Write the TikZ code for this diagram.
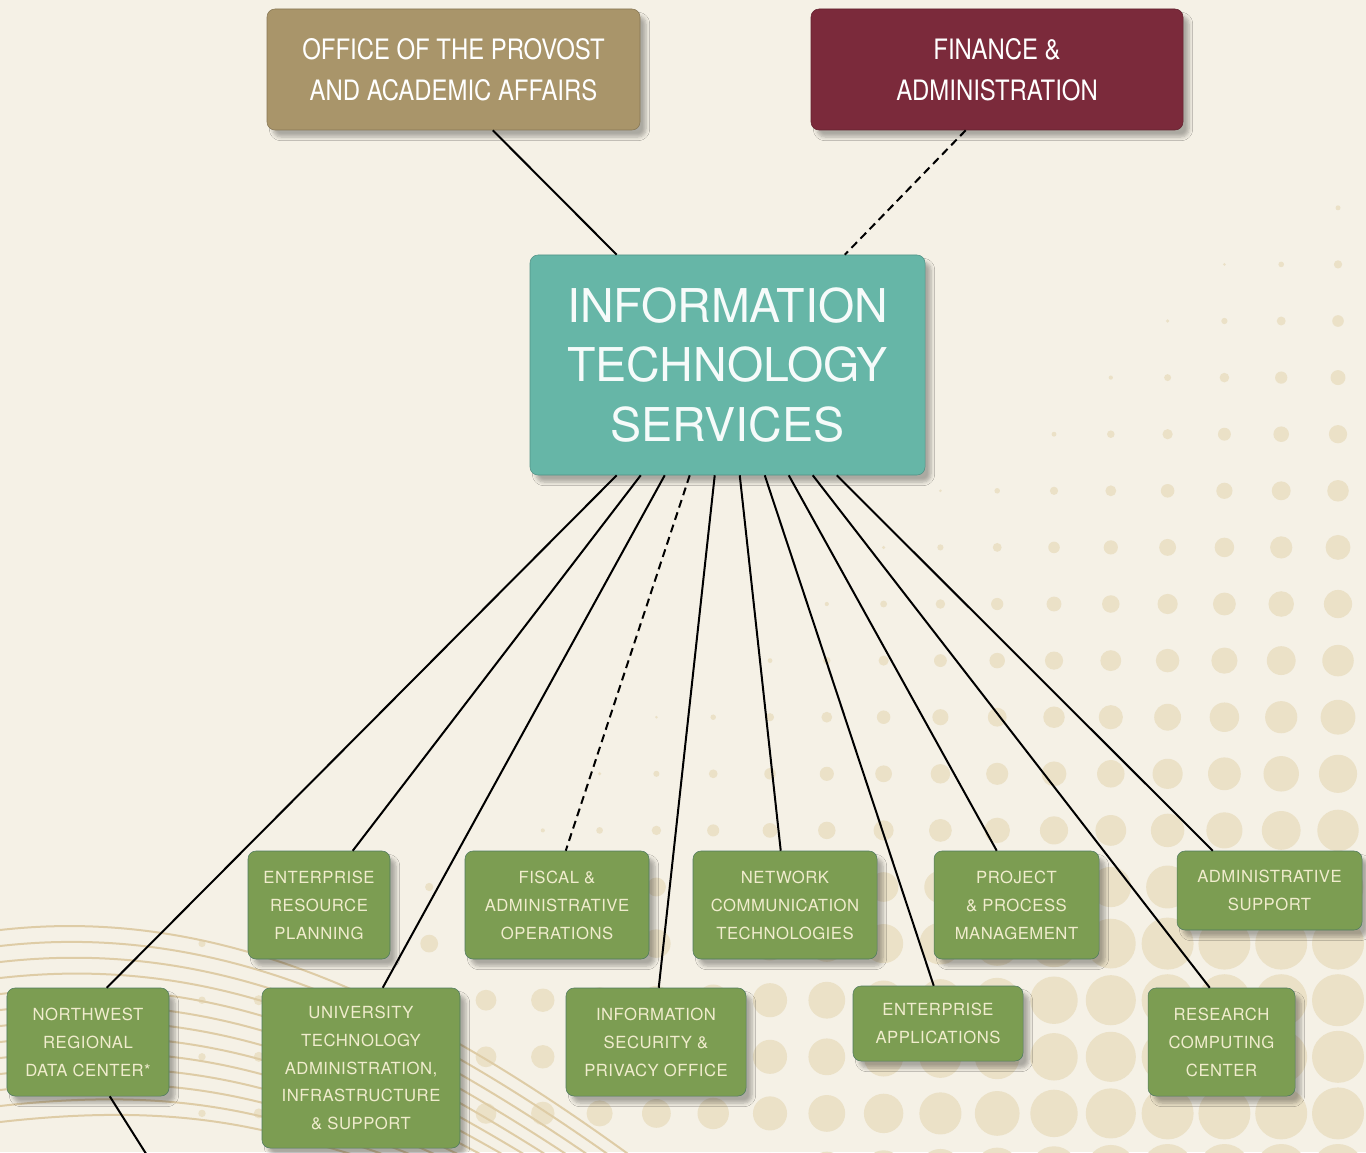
\documentclass[tikz,border=0pt]{standalone}
\usepackage{fontspec}
\setmainfont{TeX Gyre Heros}
\newfontfamily\narrowfont[FakeStretch=0.85]{TeX Gyre Heros}
\newfontfamily\unitfont[LetterSpace=3]{TeX Gyre Heros}
\usetikzlibrary{calc}
\usetikzlibrary{shadows.blur}

\definecolor{paper}{RGB}{245,241,230}
\definecolor{dotcol}{RGB}{235,225,199}
\definecolor{swirl}{RGB}{222,204,166}
\definecolor{unitgreen}{RGB}{124,157,82}
\definecolor{unitedge}{RGB}{78,122,96}
\definecolor{unittext}{RGB}{240,236,205}
\definecolor{itsteal}{RGB}{102,182,167}
\definecolor{provostgold}{RGB}{169,149,106}
\definecolor{financered}{RGB}{123,42,59}

\begin{document}
\begin{tikzpicture}[x=0.2mm, y=-0.2mm,
        box/.style={rounded corners=1.6mm, inner sep=0pt, align=center, line width=0.3pt,
            blur shadow={shadow xshift=1.2mm, shadow yshift=-1.4mm, shadow opacity=30, shadow blur steps=6}},
        unit/.style={box, fill=unitgreen, draw=unitedge, text=unittext,
            font=\unitfont\fontsize{9.5}{15.9}\selectfont},
        head/.style={box, fill=#1, draw=#1!80!black, text=white,
            font=\narrowfont\fontsize{16}{23.2}\selectfont},
        link/.style={line width=0.4mm, black},
        weak link/.style={link, dash pattern=on 1.6mm off 1mm}]

        % Paper
        \fill[paper] (0,0) rectangle (1366,1152);
        \useasboundingbox (0,0) rectangle (1366,1152);
        \clip (0,0) rectangle (1366,1152);

        % Halftone dots, growing towards the bottom right
        \foreach \i in {0,...,20} {
            \foreach \j in {0,...,17} {
                \pgfmathsetmacro\dx{1338-56.8*\i}
                \pgfmathsetmacro\dy{1170-56.6*\j}
                \pgfmathsetmacro\g{min(23.7,max(-4.2+0.0293*(\dy-208),14+0.084*(\dy-830)))}
                \pgfmathsetmacro\rr{min(26,\g+0.0235*(\dx-1053))}
                \ifdim\rr pt>1.2pt \fill[dotcol] (\dx,\dy) circle[radius=0.2mm*\rr]; \fi
            }
        }

        % Swirl lines bottom left
        \foreach \k in {0,...,12} {
            \draw[swirl, line width=0.4mm] (0,930+16*\k) .. controls (220,905+16*\k) and (420-10*\k,1000+12*\k) .. (650-20*\k,1170);
        }

        % Top boxes
        \node[head=provostgold, minimum width=74.6mm, minimum height=24.2mm] (provost) at (453.5,69.5)
            {OFFICE OF THE PROVOST\\AND ACADEMIC AFFAIRS};
        \node[head=financered, minimum width=74.4mm, minimum height=24.2mm] (finance) at (997,69.5)
            {FINANCE \&\\ADMINISTRATION};

        % ITS
        \node[box, fill=itsteal, draw=itsteal!80!black, text=white!94!itsteal,
            font=\fontsize{26.5}{34}\selectfont, minimum width=79mm, minimum height=44mm] (its) at (727.5,365)
            {INFORMATION\\TECHNOLOGY\\SERVICES};

        % Upper row of units
        \node[unit, minimum width=28.4mm, minimum height=21.6mm] (erp) at (319,905) {ENTERPRISE\\RESOURCE\\PLANNING};
        \node[unit, minimum width=36.8mm, minimum height=21.6mm] (fiscal) at (557,905) {FISCAL \&\\ADMINISTRATIVE\\OPERATIONS};
        \node[unit, minimum width=36.8mm, minimum height=21.6mm] (network) at (785,905) {NETWORK\\COMMUNICATION\\TECHNOLOGIES};
        \node[unit, minimum width=33mm, minimum height=21.6mm] (project) at (1016.5,905) {PROJECT\\\& PROCESS\\MANAGEMENT};
        \node[unit, minimum width=37mm, minimum height=15.8mm] (admin) at (1269.5,890.5) {ADMINISTRATIVE\\SUPPORT};

        % Lower row of units
        \node[unit, minimum width=32.4mm, minimum height=21.6mm] (nw) at (88,1042) {NORTHWEST\\REGIONAL\\DATA CENTER*};
        \node[unit, minimum width=39.6mm, minimum height=32mm] (utais) at (361,1068) {UNIVERSITY\\TECHNOLOGY\\ADMINISTRATION,\\INFRASTRUCTURE\\\& SUPPORT};
        \node[unit, minimum width=36mm, minimum height=21.6mm] (infosec) at (656,1042) {INFORMATION\\SECURITY \&\\PRIVACY OFFICE};
        \node[unit, minimum width=34mm, minimum height=15mm] (entapps) at (938,1023.5) {ENTERPRISE\\APPLICATIONS};
        \node[unit, minimum width=29.4mm, minimum height=21.6mm] (research) at (1221.5,1042) {RESEARCH\\COMPUTING\\CENTER};

        % Reporting lines up top
        \draw[link] ($(provost.south west)+(226,0)$) -- ($(its.north west)+(87,0)$);
        \draw[weak link] ($(finance.south west)+(155,0)$) -- ($(its.north west)+(315,0)$);

        % Fan out to the units
        \foreach \kid/\a/\b in {nw/87/100, erp/111/105, utais/135/121, infosec/185/93, network/210/88,
                entapps/235/81, project/259/63, research/283/62, admin/307/36} {
            \draw[link] ($(its.south west)+(\a,0)$) -- ($(\kid.north west)+(\b,0)$);
        }
        \draw[weak link] ($(its.south west)+(160,0)$) -- ($(fiscal.north west)+(101,0)$);

        % Line running off below the data center
        \coordinate (offpage) at (150,1160);
        \draw[link] ($(nw.south west)+(103,0)$) -- (offpage);

\end{tikzpicture}
\end{document}
